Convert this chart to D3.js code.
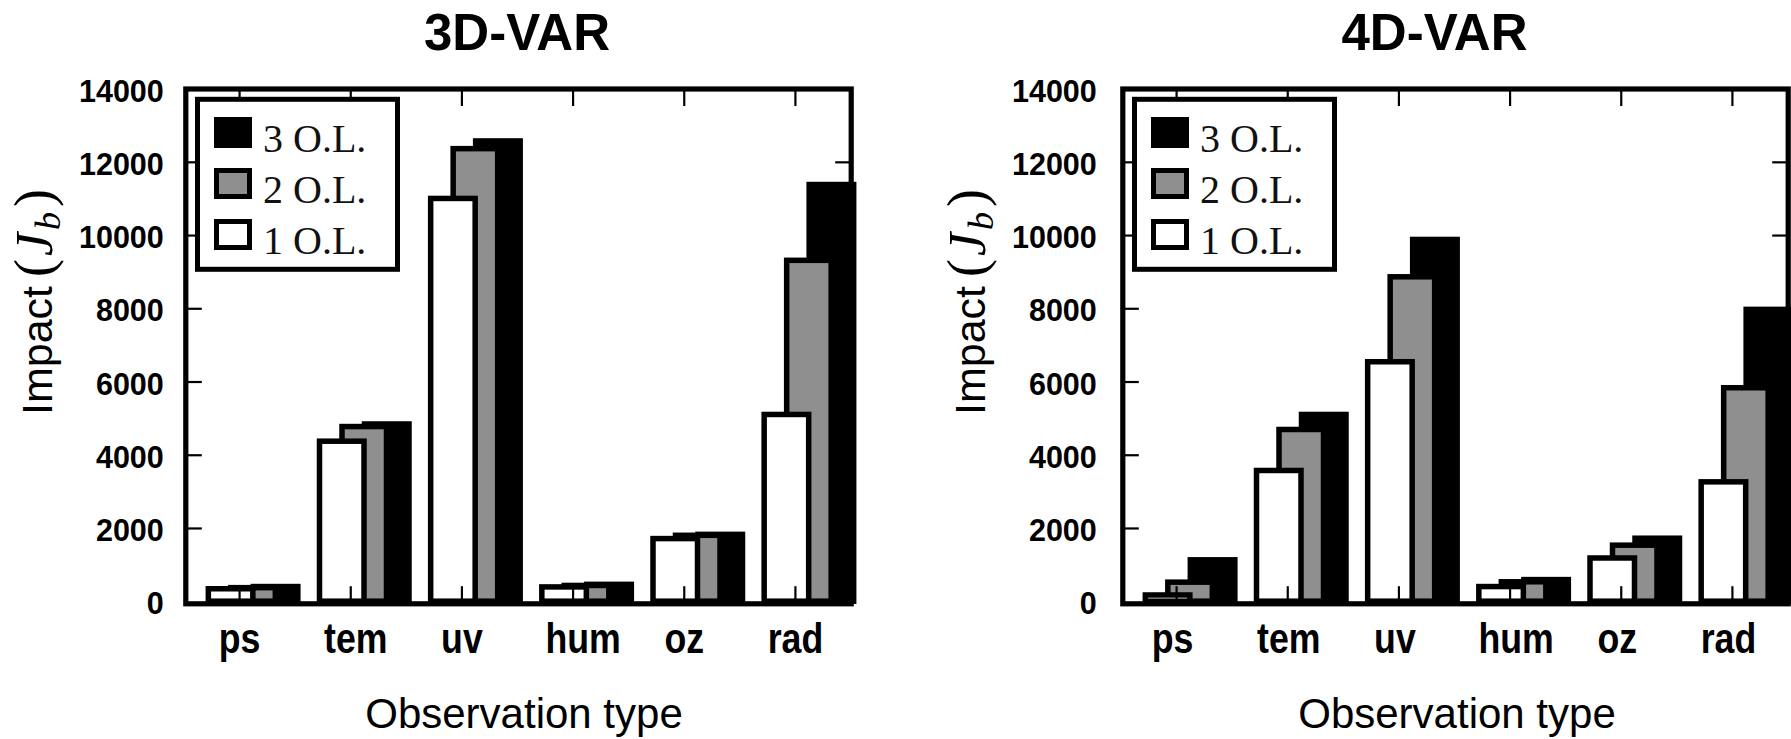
<!DOCTYPE html>
<html>
<head>
<meta charset="utf-8">
<script src="https://cdn.jsdelivr.net/npm/d3@7"></script>
<style>
  html, body { margin: 0; padding: 0; background: #fff; }
  svg { display: block; }
</style>
</head>
<body>
<script>
// ---------------- data ----------------
const categories = ["ps", "tem", "uv", "hum", "oz", "rad"];
const seriesNames = ["1 O.L.", "2 O.L.", "3 O.L."];
const yTicks = [0, 2000, 4000, 6000, 8000, 10000, 12000, 14000];

// 3D-VAR
const var3d_1OL = [340, 4370, 11000, 390, 1710, 5100];
const var3d_2OL = [370, 4770, 12360, 430, 1800, 9310];
const var3d_3OL = [400, 4840, 12570, 460, 1825, 11380];
// 4D-VAR
const var4d_1OL = [170, 3570, 6540, 400, 1180, 3260];
const var4d_2OL = [520, 4690, 8860, 530, 1530, 5830];
const var4d_3OL = [1130, 5100, 9880, 590, 1720, 7970];

const panelTitles = ["3D-VAR", "4D-VAR"];
const xTitle = "Observation type";

// ---------------- styling ----------------
const W = 1791, H = 739;
const seriesFill = ["#ffffff", "#8f8f8f", "#000000"];
const panels = [
  { title: panelTitles[0], series: [var3d_1OL, var3d_2OL, var3d_3OL], ox: 0, tox: 0, titleX: 517 },
  { title: panelTitles[1], series: [var4d_1OL, var4d_2OL, var4d_3OL], ox: 937, tox: 933, titleX: 1434.5 }
];
const frame = { left: 185.8, right: 851.2, top: 89, bottom: 603.8 };
const labelShift = { tem: 5, hum: 10 };

const svg = d3.select("body").append("svg")
  .attr("width", W).attr("height", H)
  .attr("viewBox", `0 0 ${W} ${H}`);
svg.append("rect").attr("width", W).attr("height", H).attr("fill", "#fff");

const y = d3.scaleLinear().domain([0, 14000]).range([601.2, 88.6]);

panels.forEach(p => {
  const g = svg.append("g");
  const L = frame.left + p.ox, R = frame.right + p.ox;
  const x = d3.scaleBand().domain(categories).range([184 + p.ox, 851 + p.ox]).padding(0);
  const cx = c => x(c) + x.bandwidth() / 2;

  // bars: draw black (3 O.L.) first, then gray, then white on top
  const barW = 44.5, step = 22.5;
  for (let j = 2; j >= 0; j--) {
    g.append("g").selectAll("rect")
      .data(categories.map((c, i) => ({ c, v: p.series[j][i] })))
      .join("rect")
      .attr("x", d => cx(d.c) + 13.5 + (j - 1) * step - barW / 2)
      .attr("y", d => y(d.v))
      .attr("width", barW)
      .attr("height", d => y(0) - y(d.v))
      .attr("fill", seriesFill[j])
      .attr("stroke", "#000")
      .attr("stroke-width", 5.5);
  }

  // inward ticks (mirrored on all four sides)
  const inner = yTicks.slice(1, -1);
  const tickStyle = sel => {
    sel.select(".domain").remove();
    sel.selectAll("line").attr("stroke", "#000").attr("stroke-width", 2.2);
    sel.selectAll("text").remove();
  };
  g.append("g").attr("transform", `translate(${L},0)`)
    .call(d3.axisRight(y).tickValues(inner).tickSize(16).tickFormat("")).call(tickStyle);
  g.append("g").attr("transform", `translate(${R},0)`)
    .call(d3.axisLeft(y).tickValues(inner).tickSize(16).tickFormat("")).call(tickStyle);
  g.append("g").attr("transform", `translate(0,${frame.top})`)
    .call(d3.axisBottom(x).tickSize(17).tickFormat("")).call(tickStyle);
  g.append("g").attr("transform", `translate(0,${y(0)})`)
    .call(d3.axisTop(x).tickSize(15).tickFormat("")).call(tickStyle);

  // frame
  g.append("rect")
    .attr("x", L).attr("y", frame.top)
    .attr("width", R - L).attr("height", frame.bottom - frame.top)
    .attr("fill", "none").attr("stroke", "#000").attr("stroke-width", 5.2);

  // y tick labels
  const ya = g.append("g").attr("transform", `translate(${frame.left + p.tox - 22},0)`)
    .call(d3.axisLeft(y).tickValues(yTicks).tickSize(0).tickPadding(0).tickFormat(d3.format("d")));
  ya.select(".domain").remove();
  ya.selectAll("text")
    .attr("font-family", "'Liberation Sans', Arial, sans-serif")
    .attr("font-weight", "bold").attr("font-size", 30.5)
    .attr("fill", "#000")
    .attr("dy", "0.41em");

  // category labels
  g.append("g").selectAll("text")
    .data(categories).join("text")
    .attr("transform", c => `translate(${cx(c) + (p.tox - p.ox) + (labelShift[c] || 0)},653) scale(0.85,1)`)
    .attr("text-anchor", "middle")
    .attr("font-family", "'Liberation Sans', Arial, sans-serif")
    .attr("font-weight", "bold").attr("font-size", 42)
    .attr("fill", "#000")
    .text(c => c);

  // x axis title
  g.append("text")
    .attr("x", 524 + p.tox).attr("y", 728)
    .attr("text-anchor", "middle")
    .attr("font-family", "'Liberation Sans', Arial, sans-serif")
    .attr("font-size", 42).attr("fill", "#000")
    .text(xTitle);

  // y axis title  Impact (J_b)
  const yt = g.append("text")
    .attr("transform", `translate(${52 + p.tox},415) rotate(-90)`)
    .attr("text-anchor", "start")
    .attr("font-family", "'Liberation Sans', Arial, sans-serif")
    .attr("font-size", 43).attr("fill", "#000");
  yt.append("tspan").text("Impact");
  yt.append("tspan").attr("dx", 9).attr("font-family", "'Liberation Serif', serif").attr("font-size", 54).text("(");
  yt.append("tspan").attr("dx", 3).attr("font-family", "'Liberation Serif', serif").attr("font-style", "italic").attr("font-size", 52).text("J");
  yt.append("tspan").attr("dx", 3).attr("dy", 8).attr("font-family", "'Liberation Serif', serif").attr("font-style", "italic").attr("font-size", 36).text("b");
  yt.append("tspan").attr("dx", 5).attr("dy", -8).attr("font-family", "'Liberation Serif', serif").attr("font-size", 54).text(")");

  // panel title
  g.append("text")
    .attr("x", p.titleX).attr("y", 50)
    .attr("text-anchor", "middle")
    .attr("font-family", "'Liberation Sans', Arial, sans-serif")
    .attr("font-weight", "bold").attr("font-size", 51).attr("fill", "#000")
    .text(p.title);

  // legend (white box over the ticks)
  const lg = g.append("g");
  lg.append("rect")
    .attr("x", 197.5 + p.ox).attr("y", 99.3)
    .attr("width", 200).attr("height", 170)
    .attr("fill", "#fff").attr("stroke", "#000").attr("stroke-width", 5);
  const order = [2, 1, 0];
  order.forEach((j, k) => {
    lg.append("rect")
      .attr("x", 216.5 + p.ox).attr("y", 119.5 + k * 51)
      .attr("width", 33).attr("height", 26)
      .attr("fill", seriesFill[j]).attr("stroke", "#000").attr("stroke-width", 5);
    lg.append("text")
      .attr("x", 263 + p.ox).attr("y", 152 + k * 51)
      .attr("font-family", "'Liberation Serif', 'Times New Roman', serif")
      .attr("font-size", 40).attr("fill", "#111")
      .attr("xml:space", "preserve")
      .text(seriesNames[j]);
  });
});
</script>
</body>
</html>
